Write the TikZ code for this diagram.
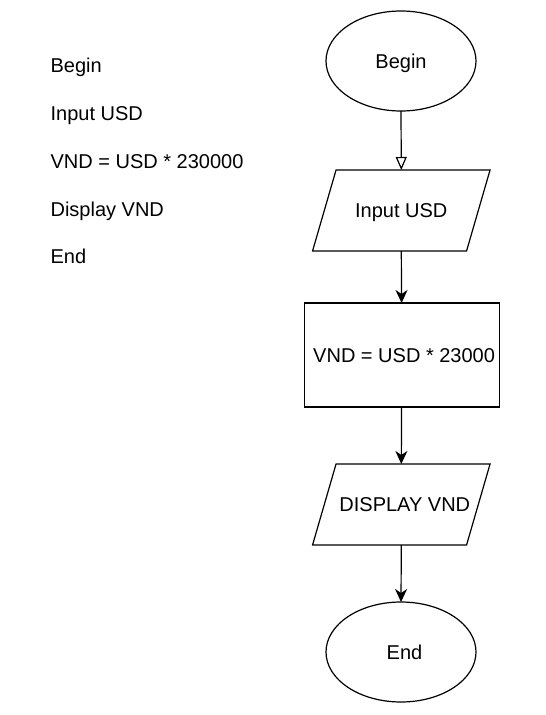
\documentclass[tikz,border=0pt]{standalone}
\usepackage{fontspec}
\setmainfont{Liberation Sans}
\usetikzlibrary{shapes.geometric,arrows.meta}
\begin{document}
\begin{tikzpicture}[x=1pt,y=-1pt,
  font=\fontsize{20}{24}\selectfont,
  every path/.style={line width=1.2pt},
  captext/.style={text height=14.3pt, text depth=0pt},
  term/.style={draw, ellipse, captext, minimum width=150pt, minimum height=100pt, inner sep=0pt, outer sep=0pt},
  proc/.style={draw, rectangle, captext, minimum width=195pt, minimum height=104pt, inner sep=0pt, outer sep=0pt},
  iobox/.style={rectangle, captext, minimum width=154pt, minimum height=81pt, inner sep=0pt, outer sep=0pt},
  flow/.style={-{Stealth[length=13pt,width=12pt,inset=4pt]}},
  openflow/.style={-{Triangle[open,length=13pt,width=11pt]}},
  pseudo/.style={anchor=base west, inner sep=0pt}
]
\useasboundingbox (0,0) rectangle (546,715);

% pseudo code
\node[pseudo] (p1) at (50,72) {Begin};
\node[pseudo] (p2) at (50,120) {Input USD};
\node[pseudo] (p3) at (50,168) {VND = USD * 230000};
\node[pseudo] (p4) at (50,216) {Display VND};
\node[pseudo] (p5) at (50,263) {End};

% flowchart
\node[term] (begin) at (401,61) {Begin};
\node[iobox] (input) at (401.3,210.5) {Input USD};
\node[proc] (calc) at (401.6,355) {\hspace*{5pt}VND = USD * 23000};
\node[iobox] (disp) at (401.3,504.5) {\hspace*{7pt}DISPLAY VND};
\node[term] (end) at (401,652) {\hspace*{7pt}End};

\draw ([xshift=11.75pt]input.north west) -- ([xshift=11.75pt]input.north east)
  -- ([xshift=-11.75pt]input.south east) -- ([xshift=-11.75pt]input.south west) -- cycle;
\draw ([xshift=11.75pt]disp.north west) -- ([xshift=11.75pt]disp.north east)
  -- ([xshift=-11.75pt]disp.south east) -- ([xshift=-11.75pt]disp.south west) -- cycle;

\draw[openflow] (begin.south) -- (input.north);
\draw[flow] (input.south) -- (calc.north);
\draw[flow] (calc.south) -- (disp.north);
\draw[flow] (disp.south) -- (end.north);
\end{tikzpicture}
\end{document}
